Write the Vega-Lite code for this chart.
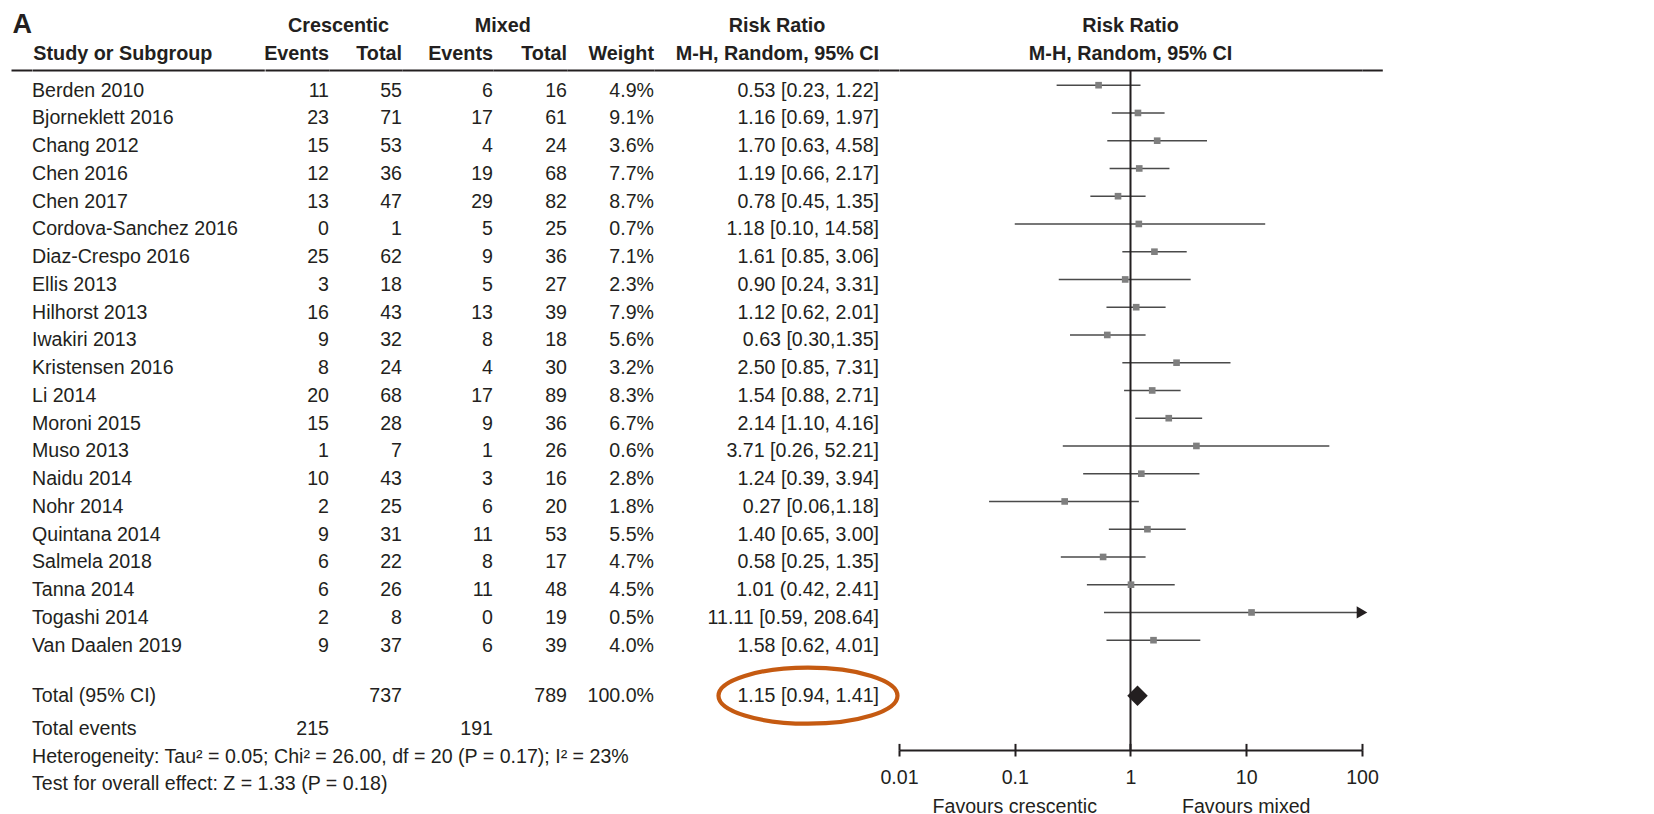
{
"$schema":"https://vega.github.io/schema/vega-lite/v6.json",
"padding":{"left":10,"top":0,"right":0,"bottom":0},
"autosize":{"type":"pad"},
"bounds":"flush",
"spacing":0,
"config":{"view":{"stroke":null},"font":"Liberation Sans","text":{"color":"#231f20"},"axis":{"grid":false}},
"datasets":{
"rows":[
{"key":"Berden 2010","label":"Berden 2010","type":"study","ce":11,"ct":55,"me":6,"mt":16,"w":"4.9%","ci":"0.53 [0.23, 1.22]","rr":0.53,"lo":0.23,"hi":1.22},
{"key":"Bjorneklett 2016","label":"Bjorneklett 2016","type":"study","ce":23,"ct":71,"me":17,"mt":61,"w":"9.1%","ci":"1.16 [0.69, 1.97]","rr":1.16,"lo":0.69,"hi":1.97},
{"key":"Chang 2012","label":"Chang 2012","type":"study","ce":15,"ct":53,"me":4,"mt":24,"w":"3.6%","ci":"1.70 [0.63, 4.58]","rr":1.70,"lo":0.63,"hi":4.58},
{"key":"Chen 2016","label":"Chen 2016","type":"study","ce":12,"ct":36,"me":19,"mt":68,"w":"7.7%","ci":"1.19 [0.66, 2.17]","rr":1.19,"lo":0.66,"hi":2.17},
{"key":"Chen 2017","label":"Chen 2017","type":"study","ce":13,"ct":47,"me":29,"mt":82,"w":"8.7%","ci":"0.78 [0.45, 1.35]","rr":0.78,"lo":0.45,"hi":1.35},
{"key":"Cordova-Sanchez 2016","label":"Cordova-Sanchez 2016","type":"study","ce":0,"ct":1,"me":5,"mt":25,"w":"0.7%","ci":"1.18 [0.10, 14.58]","rr":1.18,"lo":0.10,"hi":14.58},
{"key":"Diaz-Crespo 2016","label":"Diaz-Crespo 2016","type":"study","ce":25,"ct":62,"me":9,"mt":36,"w":"7.1%","ci":"1.61 [0.85, 3.06]","rr":1.61,"lo":0.85,"hi":3.06},
{"key":"Ellis 2013","label":"Ellis 2013","type":"study","ce":3,"ct":18,"me":5,"mt":27,"w":"2.3%","ci":"0.90 [0.24, 3.31]","rr":0.90,"lo":0.24,"hi":3.31},
{"key":"Hilhorst 2013","label":"Hilhorst 2013","type":"study","ce":16,"ct":43,"me":13,"mt":39,"w":"7.9%","ci":"1.12 [0.62, 2.01]","rr":1.12,"lo":0.62,"hi":2.01},
{"key":"Iwakiri 2013","label":"Iwakiri 2013","type":"study","ce":9,"ct":32,"me":8,"mt":18,"w":"5.6%","ci":"0.63 [0.30,1.35]","rr":0.63,"lo":0.30,"hi":1.35},
{"key":"Kristensen 2016","label":"Kristensen 2016","type":"study","ce":8,"ct":24,"me":4,"mt":30,"w":"3.2%","ci":"2.50 [0.85, 7.31]","rr":2.50,"lo":0.85,"hi":7.31},
{"key":"Li 2014","label":"Li 2014","type":"study","ce":20,"ct":68,"me":17,"mt":89,"w":"8.3%","ci":"1.54 [0.88, 2.71]","rr":1.54,"lo":0.88,"hi":2.71},
{"key":"Moroni 2015","label":"Moroni 2015","type":"study","ce":15,"ct":28,"me":9,"mt":36,"w":"6.7%","ci":"2.14 [1.10, 4.16]","rr":2.14,"lo":1.10,"hi":4.16},
{"key":"Muso 2013","label":"Muso 2013","type":"study","ce":1,"ct":7,"me":1,"mt":26,"w":"0.6%","ci":"3.71 [0.26, 52.21]","rr":3.71,"lo":0.26,"hi":52.21},
{"key":"Naidu 2014","label":"Naidu 2014","type":"study","ce":10,"ct":43,"me":3,"mt":16,"w":"2.8%","ci":"1.24 [0.39, 3.94]","rr":1.24,"lo":0.39,"hi":3.94},
{"key":"Nohr 2014","label":"Nohr 2014","type":"study","ce":2,"ct":25,"me":6,"mt":20,"w":"1.8%","ci":"0.27 [0.06,1.18]","rr":0.27,"lo":0.06,"hi":1.18},
{"key":"Quintana 2014","label":"Quintana 2014","type":"study","ce":9,"ct":31,"me":11,"mt":53,"w":"5.5%","ci":"1.40 [0.65, 3.00]","rr":1.40,"lo":0.65,"hi":3.00},
{"key":"Salmela 2018","label":"Salmela 2018","type":"study","ce":6,"ct":22,"me":8,"mt":17,"w":"4.7%","ci":"0.58 [0.25, 1.35]","rr":0.58,"lo":0.25,"hi":1.35},
{"key":"Tanna 2014","label":"Tanna 2014","type":"study","ce":6,"ct":26,"me":11,"mt":48,"w":"4.5%","ci":"1.01 (0.42, 2.41]","rr":1.01,"lo":0.42,"hi":2.41},
{"key":"Togashi 2014","label":"Togashi 2014","type":"study","ce":2,"ct":8,"me":0,"mt":19,"w":"0.5%","ci":"11.11 [0.59, 208.64]","rr":11.11,"lo":0.59,"hi":208.64},
{"key":"Van Daalen 2019","label":"Van Daalen 2019","type":"study","ce":9,"ct":37,"me":6,"mt":39,"w":"4.0%","ci":"1.58 [0.62, 4.01]","rr":1.58,"lo":0.62,"hi":4.01},
{"key":"Total (95% CI)","label":"Total (95% CI)","type":"total","ct":737,"mt":789,"w":"100.0%","ci":"1.15 [0.94, 1.41]","rr":1.15,"lo":0.94,"hi":1.41},
{"key":"Total events","label":"Total events","type":"text","ce":215,"me":191},
{"key":"Heterogeneity","label":"Heterogeneity: Tau² = 0.05; Chi² = 26.00, df = 20 (P = 0.17); I² = 23%","type":"text"},
{"key":"Test","label":"Test for overall effect: Z = 1.33 (P = 0.18)","type":"text"}
],
"headers":[
{"col":"A","row":"h1","t":"A"},
{"col":"study","row":"h2","t":"Study or Subgroup"},
{"col":"ce","row":"h2","t":"Events"},
{"col":"ct","row":"h1","t":"Crescentic"},
{"col":"ct","row":"h2","t":"Total"},
{"col":"me","row":"h2","t":"Events"},
{"col":"mt","row":"h1","t":"Mixed"},
{"col":"mt","row":"h2","t":"Total"},
{"col":"w","row":"h2","t":"Weight"},
{"col":"ci","row":"h1","t":"Risk Ratio"},
{"col":"ci","row":"h2","t":"M-H, Random, 95% CI"},
{"col":"forest","row":"h1","t":"Risk Ratio"},
{"col":"forest","row":"h2","t":"M-H, Random, 95% CI"}
],
"fav":[
{"x":0.1,"t":"Favours crescentic"},
{"x":10,"t":"Favours mixed"}
],
"one":[{"a":1}]
},
"hconcat":[
{"width":20.7,"height":680,"resolve":{"scale":{"x":"independent","y":"independent"}},"layer":[
 {"data":{"name":"headers"},"transform":[{"filter":"datum.col==='A'"}],"mark":{"type":"text","fontWeight":"bold","fontSize":27,"align":"left","baseline":"middle","dx":1.5,"dy":-1},
  "encoding":{"x":{"datum":"c","type":"nominal","scale":{"type":"point","padding":0,"align":0},"axis":{"orient":"top","domain":true,"domainColor":"#231f20","domainWidth":2,"ticks":false,"labels":false,"title":null,"grid":false}},
  "y":{"field":"row","type":"nominal","scale":{"type":"point","domain":["h1","h2"],"range":[-44.3,-16.3],"padding":0},"axis":null},"text":{"field":"t"}}},
 {"data":{"name":"one"},"mark":{"type":"rule","color":"#ffffff","strokeWidth":1},
  "encoding":{"y":{"datum":"top","type":"nominal","scale":{"type":"point","domain":["top"],"range":[-68.8,-68.8],"padding":0},"axis":null}}}
]},
{"width":232.3,"height":680,"resolve":{"scale":{"x":"independent","y":"independent"}},"layer":[
 {"data":{"name":"headers"},"transform":[{"filter":"datum.col==='study'"}],"mark":{"type":"text","fontWeight":"bold","fontSize":19.8,"align":"left","baseline":"middle","dx":1.3},
  "encoding":{"x":{"datum":"c","type":"nominal","scale":{"type":"point","padding":0,"align":0},"axis":{"orient":"top","domain":true,"domainColor":"#231f20","domainWidth":2,"ticks":false,"labels":false,"title":null,"grid":false}},
  "y":{"field":"row","type":"nominal","scale":{"type":"point","domain":["h1","h2"],"range":[-44.3,-16.3],"padding":0},"axis":null},"text":{"field":"t"}}},
 {"data":{"name":"rows"},"transform":[{"filter":"datum.key !== 'Total (95% CI)'"}],"mark":{"type":"text","fontSize":19.6,"align":"left","baseline":"middle"},
  "encoding":{"x":{"datum":"c","type":"nominal","scale":{"type":"point","padding":0,"align":0},"axis":null},
  "y":{"field":"key","type":"nominal","scale":{"type":"point","domain":["Berden 2010","Bjorneklett 2016","Chang 2012","Chen 2016","Chen 2017","Cordova-Sanchez 2016","Diaz-Crespo 2016","Ellis 2013","Hilhorst 2013","Iwakiri 2013","Kristensen 2016","Li 2014","Moroni 2015","Muso 2013","Naidu 2014","Nohr 2014","Quintana 2014","Salmela 2018","Tanna 2014","Togashi 2014","Van Daalen 2019","gap","Total (95% CI)","Total events","Heterogeneity","Test"],"range":[20.7,714.45],"padding":0},"axis":null},
  "text":{"field":"label","type":"nominal"}}},
 {"data":{"name":"rows"},"transform":[{"filter":"datum.key === 'Total (95% CI)'"}],"mark":{"type":"text","fontSize":19.6,"align":"left","baseline":"middle"},
  "encoding":{"x":{"datum":"c","type":"nominal","scale":{"type":"point","padding":0,"align":0},"axis":null},
  "y":{"field":"key","type":"nominal","scale":{"type":"point","domain":["Berden 2010","Bjorneklett 2016","Chang 2012","Chen 2016","Chen 2017","Cordova-Sanchez 2016","Diaz-Crespo 2016","Ellis 2013","Hilhorst 2013","Iwakiri 2013","Kristensen 2016","Li 2014","Moroni 2015","Muso 2013","Naidu 2014","Nohr 2014","Quintana 2014","Salmela 2018","Tanna 2014","Togashi 2014","Van Daalen 2019","gap","Total (95% CI)","Total events","Heterogeneity","Test","fav"],"range":[15.2,736.7],"padding":0},"axis":null},
  "text":{"field":"label","type":"nominal"}}}
]},
{"width":64,"height":680,"resolve":{"scale":{"x":"independent","y":"independent"}},"layer":[
 {"data":{"name":"headers"},"transform":[{"filter":"datum.col==='ce'"}],"mark":{"type":"text","fontWeight":"bold","fontSize":19.8,"align":"right","baseline":"middle"},
  "encoding":{"x":{"datum":"c","type":"nominal","scale":{"type":"point","padding":0,"align":1},"axis":{"orient":"top","domain":true,"domainColor":"#231f20","domainWidth":2,"ticks":false,"labels":false,"title":null,"grid":false}},
  "y":{"field":"row","type":"nominal","scale":{"type":"point","domain":["h1","h2"],"range":[-44.3,-16.3],"padding":0},"axis":null},"text":{"field":"t"}}},
 {"data":{"name":"rows"},"transform":[{"filter":"isValid(datum.ce) && datum.key !== 'Total (95% CI)'"}],"mark":{"type":"text","fontSize":19.6,"align":"right","baseline":"middle"},
  "encoding":{"x":{"datum":"c","type":"nominal","scale":{"type":"point","padding":0,"align":1},"axis":null},
  "y":{"field":"key","type":"nominal","scale":{"type":"point","domain":["Berden 2010","Bjorneklett 2016","Chang 2012","Chen 2016","Chen 2017","Cordova-Sanchez 2016","Diaz-Crespo 2016","Ellis 2013","Hilhorst 2013","Iwakiri 2013","Kristensen 2016","Li 2014","Moroni 2015","Muso 2013","Naidu 2014","Nohr 2014","Quintana 2014","Salmela 2018","Tanna 2014","Togashi 2014","Van Daalen 2019","gap","Total (95% CI)","Total events","Heterogeneity","Test"],"range":[20.7,714.45],"padding":0},"axis":null},
  "text":{"field":"ce","type":"nominal"}}}
]},
{"width":73,"height":680,"resolve":{"scale":{"x":"independent","y":"independent"}},"layer":[
 {"data":{"name":"headers"},"transform":[{"filter":"datum.col==='ct' && datum.row==='h2'"}],"mark":{"type":"text","fontWeight":"bold","fontSize":19.8,"align":"right","baseline":"middle"},
  "encoding":{"x":{"datum":"c","type":"nominal","scale":{"type":"point","padding":0,"align":1},"axis":{"orient":"top","domain":true,"domainColor":"#231f20","domainWidth":2,"ticks":false,"labels":false,"title":null,"grid":false}},
  "y":{"field":"row","type":"nominal","scale":{"type":"point","domain":["h1","h2"],"range":[-44.3,-16.3],"padding":0},"axis":null},"text":{"field":"t"}}},
 {"data":{"name":"headers"},"transform":[{"filter":"datum.col==='ct' && datum.row==='h1'"}],"mark":{"type":"text","fontWeight":"bold","fontSize":19.8,"align":"center","baseline":"middle","dx":-63.5},
  "encoding":{"x":{"datum":"c","type":"nominal","scale":{"type":"point","padding":0,"align":1},"axis":null},
  "y":{"field":"row","type":"nominal","scale":{"type":"point","domain":["h1","h2"],"range":[-44.3,-16.3],"padding":0},"axis":null},"text":{"field":"t"}}},
 {"data":{"name":"rows"},"transform":[{"filter":"isValid(datum.ct) && datum.key !== 'Total (95% CI)'"}],"mark":{"type":"text","fontSize":19.6,"align":"right","baseline":"middle"},
  "encoding":{"x":{"datum":"c","type":"nominal","scale":{"type":"point","padding":0,"align":1},"axis":null},
  "y":{"field":"key","type":"nominal","scale":{"type":"point","domain":["Berden 2010","Bjorneklett 2016","Chang 2012","Chen 2016","Chen 2017","Cordova-Sanchez 2016","Diaz-Crespo 2016","Ellis 2013","Hilhorst 2013","Iwakiri 2013","Kristensen 2016","Li 2014","Moroni 2015","Muso 2013","Naidu 2014","Nohr 2014","Quintana 2014","Salmela 2018","Tanna 2014","Togashi 2014","Van Daalen 2019","gap","Total (95% CI)","Total events","Heterogeneity","Test"],"range":[20.7,714.45],"padding":0},"axis":null},
  "text":{"field":"ct","type":"nominal"}}},
 {"data":{"name":"rows"},"transform":[{"filter":"datum.key === 'Total (95% CI)'"}],"mark":{"type":"text","fontSize":19.6,"align":"right","baseline":"middle"},
  "encoding":{"x":{"datum":"c","type":"nominal","scale":{"type":"point","padding":0,"align":1},"axis":null},
  "y":{"field":"key","type":"nominal","scale":{"type":"point","domain":["Berden 2010","Bjorneklett 2016","Chang 2012","Chen 2016","Chen 2017","Cordova-Sanchez 2016","Diaz-Crespo 2016","Ellis 2013","Hilhorst 2013","Iwakiri 2013","Kristensen 2016","Li 2014","Moroni 2015","Muso 2013","Naidu 2014","Nohr 2014","Quintana 2014","Salmela 2018","Tanna 2014","Togashi 2014","Van Daalen 2019","gap","Total (95% CI)","Total events","Heterogeneity","Test","fav"],"range":[15.2,736.7],"padding":0},"axis":null},
  "text":{"field":"ct","type":"nominal"}}}
]},
{"width":91,"height":680,"resolve":{"scale":{"x":"independent","y":"independent"}},"layer":[
 {"data":{"name":"headers"},"transform":[{"filter":"datum.col==='me'"}],"mark":{"type":"text","fontWeight":"bold","fontSize":19.8,"align":"right","baseline":"middle"},
  "encoding":{"x":{"datum":"c","type":"nominal","scale":{"type":"point","padding":0,"align":1},"axis":{"orient":"top","domain":true,"domainColor":"#231f20","domainWidth":2,"ticks":false,"labels":false,"title":null,"grid":false}},
  "y":{"field":"row","type":"nominal","scale":{"type":"point","domain":["h1","h2"],"range":[-44.3,-16.3],"padding":0},"axis":null},"text":{"field":"t"}}},
 {"data":{"name":"rows"},"transform":[{"filter":"isValid(datum.me) && datum.key !== 'Total (95% CI)'"}],"mark":{"type":"text","fontSize":19.6,"align":"right","baseline":"middle"},
  "encoding":{"x":{"datum":"c","type":"nominal","scale":{"type":"point","padding":0,"align":1},"axis":null},
  "y":{"field":"key","type":"nominal","scale":{"type":"point","domain":["Berden 2010","Bjorneklett 2016","Chang 2012","Chen 2016","Chen 2017","Cordova-Sanchez 2016","Diaz-Crespo 2016","Ellis 2013","Hilhorst 2013","Iwakiri 2013","Kristensen 2016","Li 2014","Moroni 2015","Muso 2013","Naidu 2014","Nohr 2014","Quintana 2014","Salmela 2018","Tanna 2014","Togashi 2014","Van Daalen 2019","gap","Total (95% CI)","Total events","Heterogeneity","Test"],"range":[20.7,714.45],"padding":0},"axis":null},
  "text":{"field":"me","type":"nominal"}}}
]},
{"width":74,"height":680,"resolve":{"scale":{"x":"independent","y":"independent"}},"layer":[
 {"data":{"name":"headers"},"transform":[{"filter":"datum.col==='mt' && datum.row==='h2'"}],"mark":{"type":"text","fontWeight":"bold","fontSize":19.8,"align":"right","baseline":"middle"},
  "encoding":{"x":{"datum":"c","type":"nominal","scale":{"type":"point","padding":0,"align":1},"axis":{"orient":"top","domain":true,"domainColor":"#231f20","domainWidth":2,"ticks":false,"labels":false,"title":null,"grid":false}},
  "y":{"field":"row","type":"nominal","scale":{"type":"point","domain":["h1","h2"],"range":[-44.3,-16.3],"padding":0},"axis":null},"text":{"field":"t"}}},
 {"data":{"name":"headers"},"transform":[{"filter":"datum.col==='mt' && datum.row==='h1'"}],"mark":{"type":"text","fontWeight":"bold","fontSize":19.8,"align":"center","baseline":"middle","dx":-64.3},
  "encoding":{"x":{"datum":"c","type":"nominal","scale":{"type":"point","padding":0,"align":1},"axis":null},
  "y":{"field":"row","type":"nominal","scale":{"type":"point","domain":["h1","h2"],"range":[-44.3,-16.3],"padding":0},"axis":null},"text":{"field":"t"}}},
 {"data":{"name":"rows"},"transform":[{"filter":"isValid(datum.mt) && datum.key !== 'Total (95% CI)'"}],"mark":{"type":"text","fontSize":19.6,"align":"right","baseline":"middle"},
  "encoding":{"x":{"datum":"c","type":"nominal","scale":{"type":"point","padding":0,"align":1},"axis":null},
  "y":{"field":"key","type":"nominal","scale":{"type":"point","domain":["Berden 2010","Bjorneklett 2016","Chang 2012","Chen 2016","Chen 2017","Cordova-Sanchez 2016","Diaz-Crespo 2016","Ellis 2013","Hilhorst 2013","Iwakiri 2013","Kristensen 2016","Li 2014","Moroni 2015","Muso 2013","Naidu 2014","Nohr 2014","Quintana 2014","Salmela 2018","Tanna 2014","Togashi 2014","Van Daalen 2019","gap","Total (95% CI)","Total events","Heterogeneity","Test"],"range":[20.7,714.45],"padding":0},"axis":null},
  "text":{"field":"mt","type":"nominal"}}},
 {"data":{"name":"rows"},"transform":[{"filter":"datum.key === 'Total (95% CI)'"}],"mark":{"type":"text","fontSize":19.6,"align":"right","baseline":"middle"},
  "encoding":{"x":{"datum":"c","type":"nominal","scale":{"type":"point","padding":0,"align":1},"axis":null},
  "y":{"field":"key","type":"nominal","scale":{"type":"point","domain":["Berden 2010","Bjorneklett 2016","Chang 2012","Chen 2016","Chen 2017","Cordova-Sanchez 2016","Diaz-Crespo 2016","Ellis 2013","Hilhorst 2013","Iwakiri 2013","Kristensen 2016","Li 2014","Moroni 2015","Muso 2013","Naidu 2014","Nohr 2014","Quintana 2014","Salmela 2018","Tanna 2014","Togashi 2014","Van Daalen 2019","gap","Total (95% CI)","Total events","Heterogeneity","Test","fav"],"range":[15.2,736.7],"padding":0},"axis":null},
  "text":{"field":"mt","type":"nominal"}}}
]},
{"width":87,"height":680,"resolve":{"scale":{"x":"independent","y":"independent"}},"layer":[
 {"data":{"name":"headers"},"transform":[{"filter":"datum.col==='w'"}],"mark":{"type":"text","fontWeight":"bold","fontSize":19.8,"align":"right","baseline":"middle"},
  "encoding":{"x":{"datum":"c","type":"nominal","scale":{"type":"point","padding":0,"align":1},"axis":{"orient":"top","domain":true,"domainColor":"#231f20","domainWidth":2,"ticks":false,"labels":false,"title":null,"grid":false}},
  "y":{"field":"row","type":"nominal","scale":{"type":"point","domain":["h1","h2"],"range":[-44.3,-16.3],"padding":0},"axis":null},"text":{"field":"t"}}},
 {"data":{"name":"rows"},"transform":[{"filter":"isValid(datum.w) && datum.key !== 'Total (95% CI)'"}],"mark":{"type":"text","fontSize":19.6,"align":"right","baseline":"middle"},
  "encoding":{"x":{"datum":"c","type":"nominal","scale":{"type":"point","padding":0,"align":1},"axis":null},
  "y":{"field":"key","type":"nominal","scale":{"type":"point","domain":["Berden 2010","Bjorneklett 2016","Chang 2012","Chen 2016","Chen 2017","Cordova-Sanchez 2016","Diaz-Crespo 2016","Ellis 2013","Hilhorst 2013","Iwakiri 2013","Kristensen 2016","Li 2014","Moroni 2015","Muso 2013","Naidu 2014","Nohr 2014","Quintana 2014","Salmela 2018","Tanna 2014","Togashi 2014","Van Daalen 2019","gap","Total (95% CI)","Total events","Heterogeneity","Test"],"range":[20.7,714.45],"padding":0},"axis":null},
  "text":{"field":"w","type":"nominal"}}},
 {"data":{"name":"rows"},"transform":[{"filter":"datum.key === 'Total (95% CI)'"}],"mark":{"type":"text","fontSize":19.6,"align":"right","baseline":"middle"},
  "encoding":{"x":{"datum":"c","type":"nominal","scale":{"type":"point","padding":0,"align":1},"axis":null},
  "y":{"field":"key","type":"nominal","scale":{"type":"point","domain":["Berden 2010","Bjorneklett 2016","Chang 2012","Chen 2016","Chen 2017","Cordova-Sanchez 2016","Diaz-Crespo 2016","Ellis 2013","Hilhorst 2013","Iwakiri 2013","Kristensen 2016","Li 2014","Moroni 2015","Muso 2013","Naidu 2014","Nohr 2014","Quintana 2014","Salmela 2018","Tanna 2014","Togashi 2014","Van Daalen 2019","gap","Total (95% CI)","Total events","Heterogeneity","Test","fav"],"range":[15.2,736.7],"padding":0},"axis":null},
  "text":{"field":"w","type":"nominal"}}}
]},
{"width":225,"height":680,"resolve":{"scale":{"x":"independent","y":"independent"}},"layer":[
 {"data":{"name":"headers"},"transform":[{"filter":"datum.col==='ci' && datum.row==='h2'"}],"mark":{"type":"text","fontWeight":"bold","fontSize":19.8,"align":"right","baseline":"middle"},
  "encoding":{"x":{"datum":"c","type":"nominal","scale":{"type":"point","padding":0,"align":1},"axis":{"orient":"top","domain":true,"domainColor":"#231f20","domainWidth":2,"ticks":false,"labels":false,"title":null,"grid":false}},
  "y":{"field":"row","type":"nominal","scale":{"type":"point","domain":["h1","h2"],"range":[-44.3,-16.3],"padding":0},"axis":null},"text":{"field":"t"}}},
 {"data":{"name":"headers"},"transform":[{"filter":"datum.col==='ci' && datum.row==='h1'"}],"mark":{"type":"text","fontWeight":"bold","fontSize":19.8,"align":"center","baseline":"middle","dx":-102},
  "encoding":{"x":{"datum":"c","type":"nominal","scale":{"type":"point","padding":0,"align":1},"axis":null},
  "y":{"field":"row","type":"nominal","scale":{"type":"point","domain":["h1","h2"],"range":[-44.3,-16.3],"padding":0},"axis":null},"text":{"field":"t"}}},
 {"data":{"name":"rows"},"transform":[{"filter":"isValid(datum.ci) && datum.key !== 'Total (95% CI)'"}],"mark":{"type":"text","fontSize":19.6,"align":"right","baseline":"middle"},
  "encoding":{"x":{"datum":"c","type":"nominal","scale":{"type":"point","padding":0,"align":1},"axis":null},
  "y":{"field":"key","type":"nominal","scale":{"type":"point","domain":["Berden 2010","Bjorneklett 2016","Chang 2012","Chen 2016","Chen 2017","Cordova-Sanchez 2016","Diaz-Crespo 2016","Ellis 2013","Hilhorst 2013","Iwakiri 2013","Kristensen 2016","Li 2014","Moroni 2015","Muso 2013","Naidu 2014","Nohr 2014","Quintana 2014","Salmela 2018","Tanna 2014","Togashi 2014","Van Daalen 2019","gap","Total (95% CI)","Total events","Heterogeneity","Test"],"range":[20.7,714.45],"padding":0},"axis":null},
  "text":{"field":"ci","type":"nominal"}}},
 {"data":{"name":"rows"},"transform":[{"filter":"datum.key === 'Total (95% CI)'"}],"mark":{"type":"text","fontSize":19.6,"align":"right","baseline":"middle"},
  "encoding":{"x":{"datum":"c","type":"nominal","scale":{"type":"point","padding":0,"align":1},"axis":null},
  "y":{"field":"key","type":"nominal","scale":{"type":"point","domain":["Berden 2010","Bjorneklett 2016","Chang 2012","Chen 2016","Chen 2017","Cordova-Sanchez 2016","Diaz-Crespo 2016","Ellis 2013","Hilhorst 2013","Iwakiri 2013","Kristensen 2016","Li 2014","Moroni 2015","Muso 2013","Naidu 2014","Nohr 2014","Quintana 2014","Salmela 2018","Tanna 2014","Togashi 2014","Van Daalen 2019","gap","Total (95% CI)","Total events","Heterogeneity","Test","fav"],"range":[15.2,736.7],"padding":0},"axis":null},
  "text":{"field":"ci","type":"nominal"}}},
 {"data":{"name":"rows"},"transform":[{"filter":"datum.key === 'Total (95% CI)'"}],"mark":{"type":"point","shape":"M-1,0C-1,-0.1729,-0.5523,-0.313,0,-0.313C0.5523,-0.313,1,-0.1729,1,0C1,0.1729,0.5523,0.313,0,0.313C-0.5523,0.313,-1,0.1729,-1,0Z","size":32041,"filled":false,"color":"#c55a11","strokeWidth":4.2,"opacity":1},
  "encoding":{"x":{"datum":"e","type":"nominal","scale":{"type":"point","padding":0,"align":0.6844},"axis":null},
  "y":{"field":"key","type":"nominal","scale":{"type":"point","domain":["Berden 2010","Bjorneklett 2016","Chang 2012","Chen 2016","Chen 2017","Cordova-Sanchez 2016","Diaz-Crespo 2016","Ellis 2013","Hilhorst 2013","Iwakiri 2013","Kristensen 2016","Li 2014","Moroni 2015","Muso 2013","Naidu 2014","Nohr 2014","Quintana 2014","Salmela 2018","Tanna 2014","Togashi 2014","Van Daalen 2019","gap","Total (95% CI)","Total events","Heterogeneity","Test","fav"],"range":[15.2,736.7],"padding":0},"axis":null}}}
]},
{"width":19.7,"height":680,"layer":[
 {"data":{"name":"one"},"mark":{"type":"text"},
  "encoding":{"x":{"datum":"c","type":"nominal","scale":{"type":"point","padding":0,"align":1},"axis":{"orient":"top","domain":true,"domainColor":"#231f20","domainWidth":2,"ticks":false,"labels":false,"title":null,"grid":false}},"text":{"value":""}}}
]},
{"width":463,"height":680,"resolve":{"scale":{"y":"independent"},"axis":{"x":"independent"}},"layer":[
 {"data":{"name":"rows"},"transform":[{"filter":"datum.type === 'study'"}],"mark":{"type":"rule","color":"#4a4a4a","strokeWidth":1.6},
  "encoding":{"x":{"field":"lo","type":"quantitative","scale":{"type":"log","domain":[0.01,100],"nice":false,"clamp":true},
   "axis":{"orient":"bottom","values":[0.01,0.1,1,10,100],"format":"~g","grid":false,"domain":true,"domainColor":"#231f20","domainWidth":2,"ticks":true,"tickColor":"#231f20","tickWidth":2,"tickSize":6,"labels":true,"labelFontSize":19.6,"labelColor":"#231f20","labelFont":"Liberation Sans","labelBaseline":"middle","labelPadding":21.4,"labelFlush":false,"labelOverlap":false,"title":null}},
  "x2":{"field":"hi"},
  "y":{"field":"key","type":"nominal","scale":{"type":"point","domain":["Berden 2010","Bjorneklett 2016","Chang 2012","Chen 2016","Chen 2017","Cordova-Sanchez 2016","Diaz-Crespo 2016","Ellis 2013","Hilhorst 2013","Iwakiri 2013","Kristensen 2016","Li 2014","Moroni 2015","Muso 2013","Naidu 2014","Nohr 2014","Quintana 2014","Salmela 2018","Tanna 2014","Togashi 2014","Van Daalen 2019","gap","Total (95% CI)","Total events","Heterogeneity","Test","fav"],"range":[15.2,736.7],"padding":0},"axis":null}}},
 {"data":{"name":"one"},"mark":{"type":"rule","color":"#231f20","strokeWidth":2},
  "encoding":{"x":{"datum":1,"type":"quantitative","scale":{"type":"log","domain":[0.01,100],"nice":false,"clamp":true},
   "axis":{"orient":"top","domain":true,"domainColor":"#231f20","domainWidth":2,"ticks":false,"labels":false,"title":null,"grid":false}}}},
 {"data":{"name":"rows"},"transform":[{"filter":"datum.type === 'study'"}],"mark":{"type":"point","shape":"square","filled":true,"color":"#7f7f7f","size":44,"opacity":1},
  "encoding":{"x":{"field":"rr","type":"quantitative","scale":{"type":"log","domain":[0.01,100],"nice":false,"clamp":true},
   "axis":{"orient":"bottom","values":[0.01,0.1,1,10,100],"grid":false,"domain":false,"labels":false,"ticks":true,"tickColor":"#231f20","tickWidth":2,"tickSize":-6.6,"title":null}},
  "y":{"field":"key","type":"nominal","scale":{"type":"point","domain":["Berden 2010","Bjorneklett 2016","Chang 2012","Chen 2016","Chen 2017","Cordova-Sanchez 2016","Diaz-Crespo 2016","Ellis 2013","Hilhorst 2013","Iwakiri 2013","Kristensen 2016","Li 2014","Moroni 2015","Muso 2013","Naidu 2014","Nohr 2014","Quintana 2014","Salmela 2018","Tanna 2014","Togashi 2014","Van Daalen 2019","gap","Total (95% CI)","Total events","Heterogeneity","Test","fav"],"range":[15.2,736.7],"padding":0},"axis":null}}},
 {"data":{"name":"rows"},"transform":[{"filter":"datum.hi > 100"}],"mark":{"type":"point","shape":"triangle-right","filled":true,"color":"#231f20","size":150,"opacity":1},
  "encoding":{"x":{"datum":100,"type":"quantitative","scale":{"type":"log","domain":[0.01,100],"nice":false,"clamp":true},"axis":null},
  "y":{"field":"key","type":"nominal","scale":{"type":"point","domain":["Berden 2010","Bjorneklett 2016","Chang 2012","Chen 2016","Chen 2017","Cordova-Sanchez 2016","Diaz-Crespo 2016","Ellis 2013","Hilhorst 2013","Iwakiri 2013","Kristensen 2016","Li 2014","Moroni 2015","Muso 2013","Naidu 2014","Nohr 2014","Quintana 2014","Salmela 2018","Tanna 2014","Togashi 2014","Van Daalen 2019","gap","Total (95% CI)","Total events","Heterogeneity","Test","fav"],"range":[15.2,736.7],"padding":0},"axis":null}}},
 {"data":{"name":"rows"},"transform":[{"filter":"datum.key === 'Total (95% CI)'"}],"mark":{"type":"point","shape":"diamond","filled":true,"color":"#231f20","size":420,"opacity":1},
  "encoding":{"x":{"field":"rr","type":"quantitative","scale":{"type":"log","domain":[0.01,100],"nice":false,"clamp":true},"axis":null},
  "y":{"field":"key","type":"nominal","scale":{"type":"point","domain":["Berden 2010","Bjorneklett 2016","Chang 2012","Chen 2016","Chen 2017","Cordova-Sanchez 2016","Diaz-Crespo 2016","Ellis 2013","Hilhorst 2013","Iwakiri 2013","Kristensen 2016","Li 2014","Moroni 2015","Muso 2013","Naidu 2014","Nohr 2014","Quintana 2014","Salmela 2018","Tanna 2014","Togashi 2014","Van Daalen 2019","gap","Total (95% CI)","Total events","Heterogeneity","Test","fav"],"range":[15.2,736.7],"padding":0},"axis":null}}},
 {"data":{"name":"headers"},"transform":[{"filter":"datum.col==='forest'"}],"mark":{"type":"text","fontWeight":"bold","fontSize":19.8,"align":"center","baseline":"middle"},
  "encoding":{"x":{"datum":1,"type":"quantitative","scale":{"type":"log","domain":[0.01,100],"nice":false,"clamp":true},"axis":null},
  "y":{"field":"row","type":"nominal","scale":{"type":"point","domain":["h1","h2"],"range":[-44.3,-16.3],"padding":0},"axis":null},"text":{"field":"t"}}},
 {"data":{"name":"fav"},"mark":{"type":"text","fontSize":19.6,"align":"center","baseline":"middle"},
  "encoding":{"x":{"field":"x","type":"quantitative","scale":{"type":"log","domain":[0.01,100],"nice":false,"clamp":true},"axis":null},
  "y":{"datum":"fav","type":"nominal","scale":{"type":"point","domain":["Berden 2010","Bjorneklett 2016","Chang 2012","Chen 2016","Chen 2017","Cordova-Sanchez 2016","Diaz-Crespo 2016","Ellis 2013","Hilhorst 2013","Iwakiri 2013","Kristensen 2016","Li 2014","Moroni 2015","Muso 2013","Naidu 2014","Nohr 2014","Quintana 2014","Salmela 2018","Tanna 2014","Togashi 2014","Van Daalen 2019","gap","Total (95% CI)","Total events","Heterogeneity","Test","fav"],"range":[15.2,736.7],"padding":0},"axis":null},
  "text":{"field":"t"}}}
]},
{"width":20.3,"height":680,"layer":[
 {"data":{"name":"one"},"mark":{"type":"text"},
  "encoding":{"x":{"datum":"c","type":"nominal","scale":{"type":"point","padding":0,"align":1},"axis":{"orient":"top","domain":true,"domainColor":"#231f20","domainWidth":2,"ticks":false,"labels":false,"title":null,"grid":false}},"text":{"value":""}}}
]}
]
}
